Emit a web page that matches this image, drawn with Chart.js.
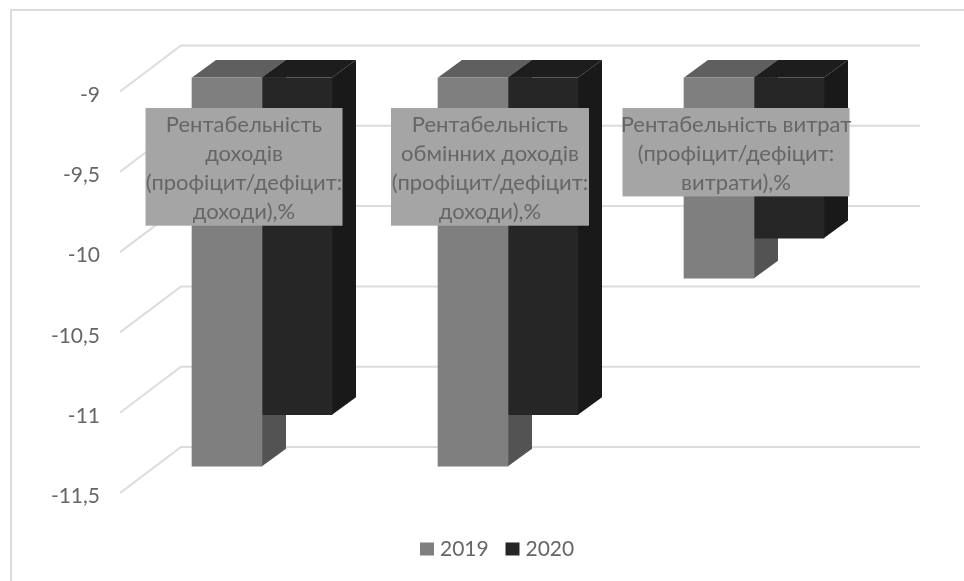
<!DOCTYPE html>
<html>
<head>
<meta charset="utf-8">
<style>
  html, body { margin: 0; padding: 0; background: #fff; }
  #wrap { width: 964px; height: 581px; }
</style>
<script src="https://cdn.jsdelivr.net/npm/chart.js@4"></script>
</head>
<body>
<div id="wrap"><canvas id="rentChart" width="964" height="581"></canvas></div>
<script>
const categories = [
  ['Рентабельність', 'доходів', '(профіцит/дефіцит:', 'доходи),%'],
  ['Рентабельність', 'обмінних доходів', '(профіцит/дефіцит:', 'доходи),%'],
  ['Рентабельність витрат', '(профіцит/дефіцит:', 'витрати),%']
];
const values2019 = [-11.42, -11.42, -10.25];
const values2020 = [-11.1, -11.1, -10.0];
const yTickLabels = ['-11,5', '-11', '-10,5', '-10', '-9,5', '-9'];

const FONT = 'Lato, "Open Sans", sans-serif';
const DEPTH_X = 24;
const DEPTH_Y = 17.5;
const sideColors = ['#535353', '#191919'];
const topColors = ['#5f5f5f', '#1d1d1d'];

function poly(ctx, pts, fill) {
  ctx.fillStyle = fill;
  ctx.beginPath();
  pts.forEach((p, i) => (i ? ctx.lineTo(p[0], p[1]) : ctx.moveTo(p[0], p[1])));
  ctx.closePath();
  ctx.fill();
}

// chart frame, walls and the depth faces of the columns
const wallPlugin = {
  id: 'walls',
  beforeDatasetsDraw(chart) {
    const ctx = chart.ctx;
    const y = chart.scales.y;
    const top = chart.chartArea.top;
    ctx.save();
    ctx.strokeStyle = '#dcdcdc';
    ctx.lineWidth = 2;
    ctx.beginPath();
    ctx.moveTo(11, 581);
    ctx.lineTo(11, 10);
    ctx.lineTo(964, 10);
    ctx.stroke();
    y.ticks.forEach(t => {
      const py = y.getPixelForValue(t.value);
      ctx.beginPath();
      ctx.moveTo(120, py + 14);
      ctx.lineTo(181, py - 32);
      ctx.lineTo(920, py - 32);
      ctx.stroke();
    });
    chart.data.datasets.forEach((ds, i) => {
      chart.getDatasetMeta(i).data.forEach(bar => {
        const l = bar.x - bar.width / 2;
        const r = bar.x + bar.width / 2;
        poly(ctx, [[r, top], [r + DEPTH_X, top - DEPTH_Y], [r + DEPTH_X, bar.y - DEPTH_Y], [r, bar.y]], sideColors[i]);
        poly(ctx, [[l, top], [l + DEPTH_X, top - DEPTH_Y], [r + DEPTH_X, top - DEPTH_Y], [r, top]], topColors[i]);
      });
    });
    ctx.restore();
  }
};

// grey category boxes sitting on top of the columns
const boxWidths = [197, 198, 227];
const categoryBoxes = {
  id: 'categoryBoxes',
  afterDatasetsDraw(chart) {
    const ctx = chart.ctx;
    const x = chart.scales.x;
    const top = chart.chartArea.top + 30.5;
    const lineH = 29.3;
    ctx.save();
    ctx.font = '22px ' + FONT;
    ctx.textAlign = 'center';
    ctx.textBaseline = 'middle';
    categories.forEach((lines, i) => {
      const cx = x.getPixelForValue(i) - 18;
      ctx.fillStyle = '#a5a5a5';
      ctx.fillRect(cx - boxWidths[i] / 2, top, boxWidths[i], lines.length * lineH + 0.5);
      ctx.fillStyle = '#666666';
      lines.forEach((line, j) => ctx.fillText(line, cx, top + 16.5 + j * lineH));
    });
    ctx.restore();
  }
};

// legend row: tight gap between swatch and year, shifted right of the canvas centre
const yearLegend = {
  id: 'yearLegend',
  afterDraw(chart) {
    const ctx = chart.ctx;
    ctx.save();
    ctx.font = '21px ' + FONT;
    ctx.textBaseline = 'middle';
    chart.data.datasets.forEach((ds, i) => {
      const lx = 420 + i * 85.5;
      ctx.fillStyle = ds.backgroundColor;
      ctx.fillRect(lx, 542.5, 14, 13);
      ctx.fillStyle = '#666666';
      ctx.fillText(ds.label, lx + 20, 549);
    });
    ctx.restore();
  }
};

new Chart(document.getElementById('rentChart'), {
  type: 'bar',
  data: {
    labels: categories.map(c => c.join(' ')),
    datasets: [
      { label: '2019', data: values2019, backgroundColor: '#7f7f7f' },
      { label: '2020', data: values2020, backgroundColor: '#262626' }
    ]
  },
  options: {
    responsive: false,
    animation: false,
    barThickness: 70,
    layout: { padding: { top: 77.5, right: 87, left: 0, bottom: 102 } },
    plugins: {
      tooltip: { enabled: false },
      legend: { display: false }
    },
    scales: {
      x: {
        afterFit(scale) { scale.height = 0; },
        grid: { display: false },
        border: { display: false },
        ticks: { display: false }
      },
      y: {
        min: -11.5,
        max: -9,
        afterFit(scale) { scale.width = 139; },
        grid: { display: false, drawTicks: false },
        border: { display: false },
        ticks: {
          stepSize: 0.5,
          padding: 39,
          labelOffset: 17.5,
          color: '#666666',
          font: { family: FONT, size: 21 },
          callback: (v, i) => yTickLabels[i]
        }
      }
    }
  },
  plugins: [wallPlugin, categoryBoxes, yearLegend]
});
</script>
</body>
</html>
